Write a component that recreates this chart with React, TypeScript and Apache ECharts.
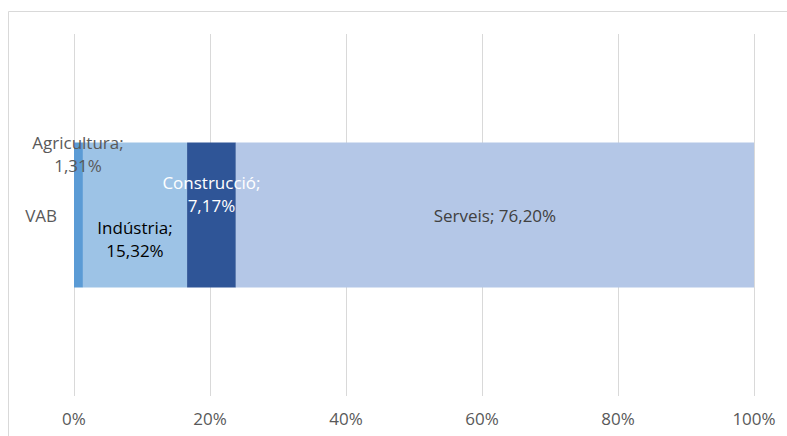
import React, { useEffect, useRef } from "react";
import * as echarts from "echarts";

const categories = ["VAB"];
const sectorNames = ["Agricultura", "Indústria", "Construcció", "Serveis"];
const sectorValues = [1.31, 15.32, 7.17, 76.2];
const xTicks = { min: 0, max: 100, interval: 20 };

const sectorColors = ["#5b9bd5", "#9dc3e6", "#2f5597", "#b4c7e7"];
const labelColors = ["#595959", "#000000", "#ffffff", "#404040"];
const FONT = "'Open Sans', 'Noto Sans', sans-serif";
const FS = 17;

function fmt(v: number) {
  return v.toFixed(2).replace(".", ",") + "%";
}

export default function App() {
  const ref = useRef<HTMLDivElement>(null);
  useEffect(() => {
    if (!ref.current) return;
    const chart = echarts.init(ref.current, undefined, { renderer: "svg" });
    const labelPos: any[] = [
      { position: [4, 11], align: "center", verticalAlign: "middle", multi: true },
      { position: ["50%", 96], align: "center", verticalAlign: "middle", multi: true },
      { position: ["50%", 51], align: "center", verticalAlign: "middle", multi: true },
      { position: "inside", multi: false },
    ];
    const series = sectorNames.map((name, i) => ({
      name,
      type: "bar",
      stack: "total",
      barWidth: 145,
      data: [sectorValues[i]],
      itemStyle: { color: sectorColors[i] },
      label: {
        show: true,
        position: labelPos[i].position,
        align: labelPos[i].align,
        verticalAlign: labelPos[i].verticalAlign,
        color: labelColors[i],
        fontFamily: FONT,
        fontSize: FS,
        lineHeight: 23,
        formatter: (p: any) =>
          labelPos[i].multi
            ? `${p.seriesName};\n${fmt(p.value)}`
            : `${p.seriesName}; ${fmt(p.value)}`,
      },
      z: i === 0 ? 3 : 2,
    }));
    chart.setOption({
      animation: false,
      grid: { left: 74, right: 33, top: 34, bottom: 40, containLabel: false },
      graphic: [
        {
          type: "rect",
          shape: { x: 8.5, y: 11.5, width: 900, height: 500 },
          style: { fill: "none", stroke: "#d9d9d9", lineWidth: 1 },
          silent: true,
        },
      ],
      xAxis: {
        type: "value",
        min: xTicks.min,
        max: xTicks.max,
        interval: xTicks.interval,
        axisLine: { show: false },
        axisTick: { show: false },
        splitLine: { show: true, lineStyle: { color: "#d9d9d9", width: 1 } },
        axisLabel: {
          formatter: "{value}%",
          color: "#595959",
          fontFamily: FONT,
          fontSize: FS,
          margin: 14,
        },
      },
      yAxis: {
        type: "category",
        data: categories,
        axisLine: { show: false },
        axisTick: { show: false },
        axisLabel: {
          color: "#595959",
          fontFamily: FONT,
          fontSize: FS,
          margin: 17,
        },
      },
      series,
    });
    return () => chart.dispose();
  }, []);
  return (
    <div
      ref={ref}
      style={{ position: "fixed", left: 0, top: 0, width: 787, height: 436, background: "#fff" }}
    />
  );
}
